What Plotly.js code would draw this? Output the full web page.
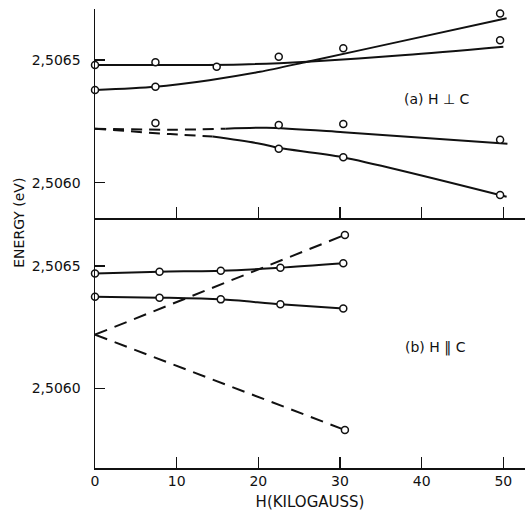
<!DOCTYPE html>
<html>
<head>
<meta charset="utf-8">
<script src="https://cdn.plot.ly/plotly-3.0.1.min.js"></script>
<style>html,body{margin:0;padding:0;background:#fff;}#chart{width:526px;height:511px;}</style>
</head>
<body>
<div id="chart"></div>
<script>
// ---------- Panel (a) H ⊥ C : measured points ----------
const aPtsX = [0, 0, 7.4, 7.4, 14.9, 22.5, 30.4, 49.6, 49.6, 7.4, 22.5, 30.4, 49.6, 22.5, 30.4, 49.6];
const aPtsE = [2.50648, 2.506378, 2.506491, 2.506391, 2.506473, 2.506513, 2.506548, 2.50669, 2.506581,
               2.506243, 2.506235, 2.506239, 2.506175, 2.506138, 2.506104, 2.50595];
// Panel (a) fitted curves
const aCurve1X = [0, 10, 18, 26, 38, 50];
const aCurve1E = [2.50648, 2.50648, 2.506482, 2.506493, 2.50652, 2.506554];
const aCurve2X = [0, 7.4, 14, 20.2, 26, 37.3, 50.4];
const aCurve2E = [2.506378, 2.506391, 2.506418, 2.506452, 2.506493, 2.506575, 2.50667];
const aCurve3DashX = [0, 10, 16];
const aCurve3DashE = [2.50622, 2.506216, 2.50622];
const aCurve3X = [16, 21, 30.4, 50.5];
const aCurve3E = [2.50622, 2.506224, 2.506206, 2.506159];
const aCurve4DashX = [0, 9.2, 14.4];
const aCurve4DashE = [2.50622, 2.506198, 2.506188];
const aCurve4X = [14.4, 20.2, 22.6, 30.3, 50.4];
const aCurve4E = [2.506188, 2.506159, 2.506141, 2.506104, 2.505943];

// ---------- Panel (b) H ∥ C ----------
const bX = [0, 7.9, 15.4, 22.7, 30.4];
const bUpperE = [2.50647, 2.506477, 2.506481, 2.506493, 2.506511];
const bLowerE = [2.506375, 2.506371, 2.506364, 2.506344, 2.506327];
const bDashX = [0, 30.6];
const bDashUpE = [2.50622, 2.506627];
const bDashDownE = [2.50622, 2.505831];

// ---------- Axes ----------
const xTicks = [0, 10, 20, 30, 40, 50];
const yTickVals = [2.5060, 2.5065];
const yTickText = ['2,5060', '2,5065'];

const ink = '#111';
const lw = 2;
const mk = {symbol: 'circle', size: 7, color: '#fff', line: {color: ink, width: 1.5}};

function line(x, y, xa, ya, dash) {
  return {x: x, y: y, xaxis: xa, yaxis: ya, mode: 'lines', type: 'scatter',
          line: {color: ink, width: lw, dash: dash || 'solid', shape: 'spline', smoothing: 0.8},
          hoverinfo: 'skip', showlegend: false, cliponaxis: false};
}
function pts(x, y, xa, ya) {
  return {x: x, y: y, xaxis: xa, yaxis: ya, mode: 'markers', type: 'scatter', marker: mk,
          showlegend: false, cliponaxis: false};
}

const traces = [
  line(aCurve1X, aCurve1E, 'x2', 'y2'),
  line(aCurve2X, aCurve2E, 'x2', 'y2'),
  line(aCurve3DashX, aCurve3DashE, 'x2', 'y2', '11px,7px'),
  line(aCurve3X, aCurve3E, 'x2', 'y2'),
  line(aCurve4DashX, aCurve4DashE, 'x2', 'y2', '11px,7px'),
  line(aCurve4X, aCurve4E, 'x2', 'y2'),
  pts(aPtsX, aPtsE, 'x2', 'y2'),
  line(bDashX, bDashUpE, 'x', 'y', '13px,8px'),
  line(bDashX, bDashDownE, 'x', 'y', '13px,8px'),
  line(bX, bUpperE, 'x', 'y'),
  line(bX, bLowerE, 'x', 'y'),
  pts(bX, bUpperE, 'x', 'y'),
  pts(bX, bLowerE, 'x', 'y'),
  pts([bDashX[1], bDashX[1]], [bDashUpE[1], bDashDownE[1]], 'x', 'y')
];

const fam = 'DejaVu Sans, sans-serif';
const fnt = {family: fam, size: 14, color: ink};
const splitY = 250 / 459;
const xBase = {range: [0, 52.65], tickvals: xTicks, ticks: 'inside', ticklen: 11, tickwidth: 1.5,
  tickcolor: ink, showline: true, linecolor: ink, linewidth: 1.5, showgrid: false, zeroline: false,
  fixedrange: true};

const layout = {
  width: 526, height: 511,
  margin: {l: 95, r: 1, t: 9, b: 43},
  paper_bgcolor: '#fff', plot_bgcolor: '#fff',
  font: fnt,
  showlegend: false,
  xaxis: Object.assign({}, xBase, {anchor: 'y', domain: [0, 1], ticktext: xTicks.map(String),
    tickfont: fnt, title: {text: 'H(KILOGAUSS)', font: {family: fam, size: 15, color: ink}, standoff: 8}}),
  xaxis2: Object.assign({}, xBase, {anchor: 'y2', domain: [0, 1], showticklabels: false, matches: 'x'}),
  yaxis: {domain: [0, splitY], range: [2.505676, 2.506696], tickvals: yTickVals, ticktext: yTickText,
    ticks: 'inside', ticklen: 10, tickwidth: 1.5, tickcolor: ink, showline: true, linecolor: ink,
    linewidth: 1.5, showgrid: false, zeroline: false, tickfont: fnt, ticklabelstandoff: 10, fixedrange: true},
  yaxis2: {domain: [splitY, 1], range: [2.505856, 2.506708], tickvals: yTickVals, ticktext: yTickText,
    ticks: 'inside', ticklen: 10, tickwidth: 1.5, tickcolor: ink, showline: true, linecolor: ink,
    linewidth: 1.5, showgrid: false, zeroline: false, tickfont: fnt, ticklabelstandoff: 10, anchor: 'x2',
    fixedrange: true},
  annotations: [
    {text: 'ENERGY (eV)', xref: 'paper', yref: 'paper', x: -0.176, y: 0.535, textangle: -90,
     showarrow: false, font: {family: fam, size: 14, color: ink},
     xanchor: 'center', yanchor: 'middle'},
    {text: '(a) H \u22A5 C', xref: 'paper', yref: 'paper', x: (437 - 95) / 430, y: (468 - 99) / 459,
     showarrow: false, font: fnt, xanchor: 'center', yanchor: 'middle'},
    {text: '(b) H \u2016 C', xref: 'paper', yref: 'paper', x: (435 - 95) / 430, y: (468 - 347) / 459,
     showarrow: false, font: fnt, xanchor: 'center', yanchor: 'middle'}
  ]
};

Plotly.newPlot('chart', traces, layout, {displayModeBar: false, staticPlot: true});
</script>
</body>
</html>
